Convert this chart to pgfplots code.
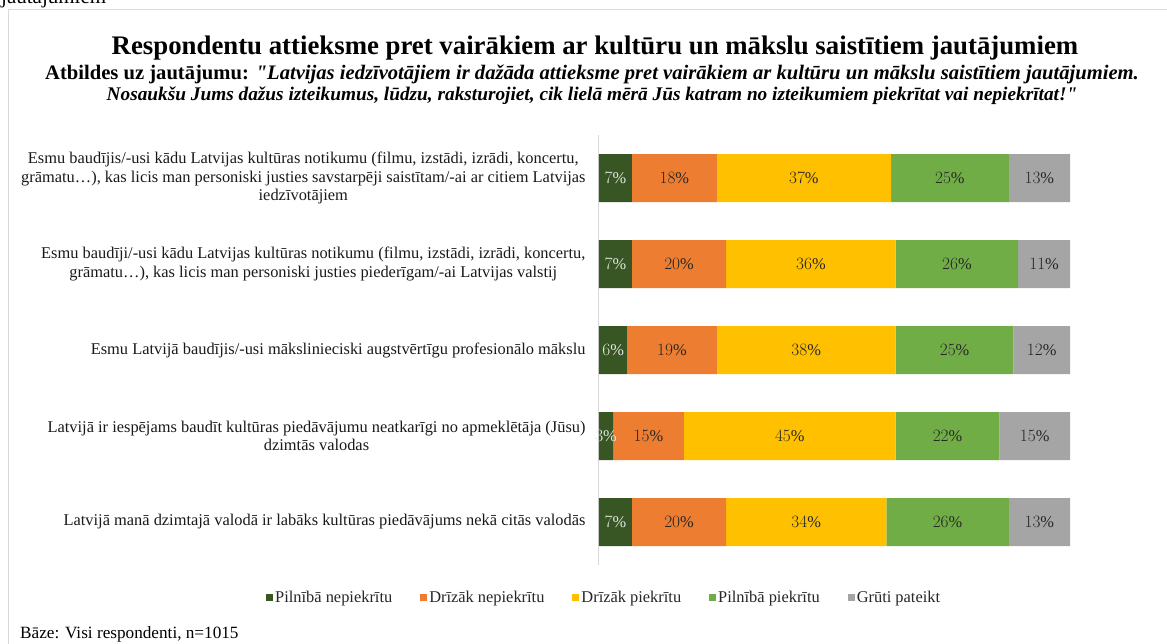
\documentclass[border=0pt]{standalone}
\usepackage{pgfplots}
\pgfplotsset{compat=1.18}
\usepackage{fontspec}
\setmainfont{Liberation Serif}[Ligatures=TeXOff]
\definecolor{c1}{HTML}{375623}
\definecolor{c2}{HTML}{ED7D31}
\definecolor{c3}{HTML}{FFC000}
\definecolor{c4}{HTML}{70AD47}
\definecolor{c5}{HTML}{A5A5A5}
\definecolor{frm}{HTML}{D9D9D9}
\begin{document}
\begin{tikzpicture}
\useasboundingbox (0pt,0pt) rectangle (1167pt,-644pt);
\draw[frm, line width=1pt] (8pt,-644pt) -- (8pt,-10pt) -- (1167pt,-10pt);
\node[anchor=base west, inner sep=0] at (1pt,-4pt) {\fontsize{21}{24}\selectfont jautājumiem};
\node[anchor=base, inner sep=0] at (595pt,-55pt) {\fontsize{26.8}{30}\selectfont\bfseries Respondentu attieksme pret vairākiem ar kultūru un mākslu saistītiem jautājumiem};
\node[anchor=base, inner sep=0] at (592pt,-80pt) {\fontsize{20.6}{24}\selectfont\bfseries Atbildes uz jautājumu: \itshape "Latvijas iedzīvotājiem ir dažāda attieksme pret vairākiem ar kultūru un mākslu saistītiem jautājumiem.};
\node[anchor=base, inner sep=0] at (592pt,-101pt) {\fontsize{19.3}{24}\selectfont\bfseries\itshape Nosaukšu Jums dažus izteikumus, lūdzu, raksturojiet, cik lielā mērā Jūs katram no izteikumiem piekrītat vai nepiekrītat!"};
\node[anchor=base west, inner sep=0] at (20pt,-638pt) {\fontsize{17.2}{20}\selectfont Bāze: Visi respondenti, n=1015};
\begin{axis}[
  at={(599pt,-135pt)}, anchor=north west,
  scale only axis, width=471pt, height=430pt,
  xbar stacked, bar width=48pt,
  xmin=0, xmax=100, ymin=-0.5, ymax=4.5, y dir=reverse,
  axis x line=none, axis y line=left,
  axis line style={-, draw=frm, line width=1pt},
  ytick={0,...,4}, major tick length=0pt,
  yticklabels={
    {Esmu baudījis/-usi kādu Latvijas kultūras notikumu (filmu, izstādi, izrādi, koncertu,\\ grāmatu…), kas licis man personiski justies savstarpēji saistītam/-ai ar citiem Latvijas\\ iedzīvotājiem},
    {Esmu baudīji/-usi kādu Latvijas kultūras notikumu (filmu, izstādi, izrādi, koncertu,\\ grāmatu…), kas licis man personiski justies piederīgam/-ai Latvijas valstij},
    {Esmu Latvijā baudījis/-usi mākslinieciski augstvērtīgu profesionālo mākslu},
    {Latvijā ir iespējams baudīt kultūras piedāvājumu neatkarīgi no apmeklētāja (Jūsu)\\ dzimtās valodas},
    {Latvijā manā dzimtajā valodā ir labāks kultūras piedāvājums nekā citās valodās}
  },
  yticklabel style={align=center, font=\fontsize{16.4}{18.5}\selectfont, xshift=-10pt, text=black!90},
  point meta=explicit,
  nodes near coords={\pgfmathprintnumber{\pgfplotspointmeta}\%},
  every node near coord/.append style={font=\fontsize{16.4}{18}\selectfont, text=black!85},
  legend style={at={(0.011,-0.0767)}, anchor=center, draw=none, legend columns=5,
    font=\fontsize{16.4}{19}\selectfont, text=black!85,
    /tikz/every even column/.append style={column sep=26pt}},
  legend image code/.code={\fill[#1] (0pt,-3.5pt) rectangle (7pt,3.5pt);},
]
\addplot[fill=c1, draw=none, every node near coord/.append style={text=white!90!black}] coordinates {(7,0)[7] (7,1)[7] (6,2)[6] (3,3)[3] (7,4)[7]};
\addplot[fill=c2, draw=none] coordinates {(18,0)[18] (20,1)[20] (19,2)[19] (15,3)[15] (20,4)[20]};
\addplot[fill=c3, draw=none] coordinates {(37,0)[37] (36,1)[36] (38,2)[38] (45,3)[45] (34,4)[34]};
\addplot[fill=c4, draw=none] coordinates {(25,0)[25] (26,1)[26] (25,2)[25] (22,3)[22] (26,4)[26]};
\addplot[fill=c5, draw=none] coordinates {(13,0)[13] (11,1)[11] (12,2)[12] (15,3)[15] (13,4)[13]};
\legend{Pilnībā nepiekrītu, Drīzāk nepiekrītu, Drīzāk piekrītu, Pilnībā piekrītu, Grūti pateikt}
\end{axis}
\end{tikzpicture}
\end{document}
